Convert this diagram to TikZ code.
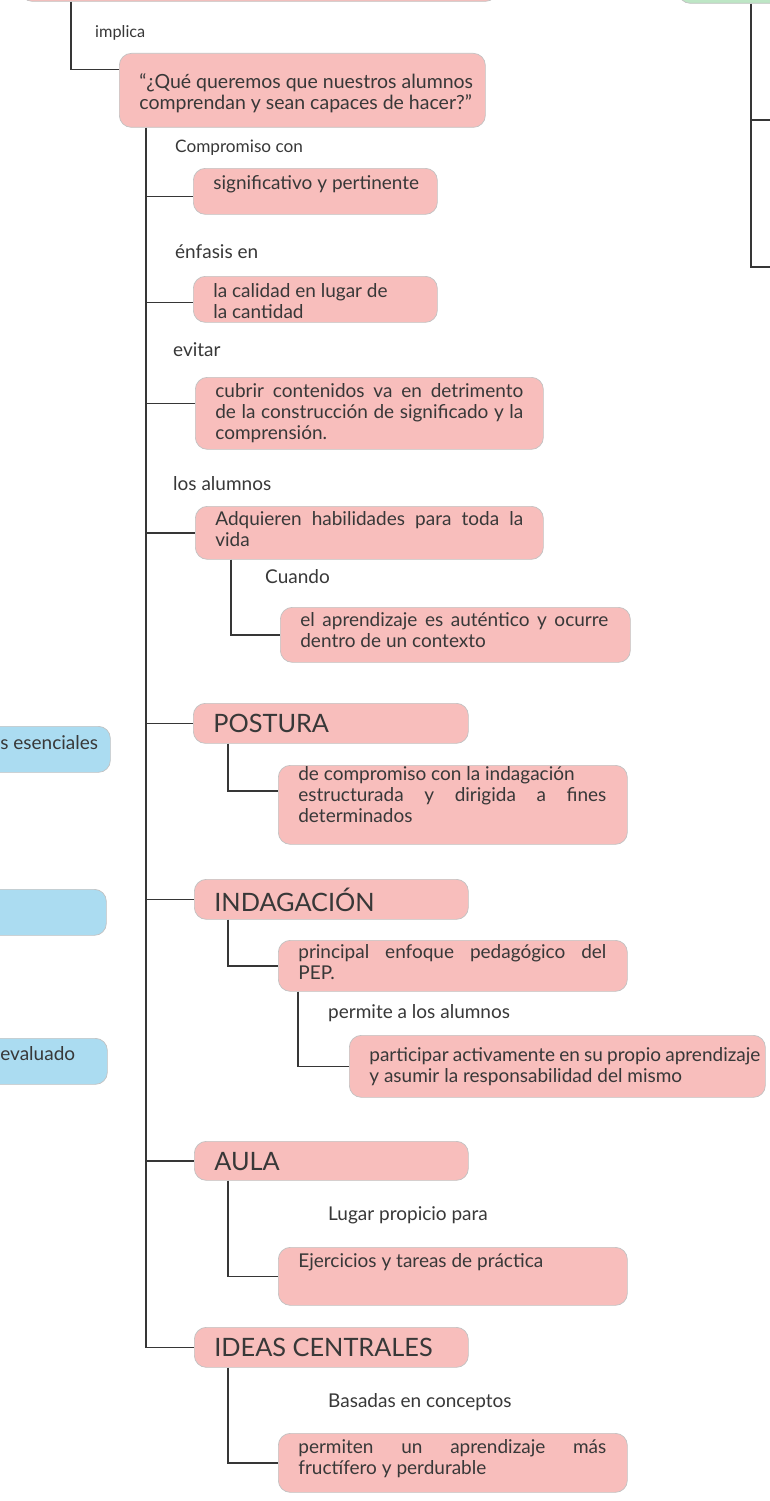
\documentclass[tikz,border=0pt]{standalone}
\usepackage{fontspec}
\setmainfont{Lato}
\definecolor{pk}{HTML}{F8BEBC}
\definecolor{bl}{HTML}{ABDCF1}
\definecolor{gr}{HTML}{BDE6C5}
\definecolor{bd}{HTML}{C2C2C2}
\definecolor{tx}{HTML}{383838}
\definecolor{ln}{HTML}{363636}
% width, height, top pad, content
\newcommand{\bt}[4]{\parbox[c][#2pt][t]{#1pt}{\vspace*{#3pt}\hspace*{20pt}\begin{tabular}[t]{@{}l@{}}#4\end{tabular}}}
\newcommand{\jl}[1]{\makebox[308pt][s]{#1}}
\newcommand{\bfnt}{\fontsize{19}{21}\selectfont}
\newcommand{\tfnt}{\fontsize{25.3}{29}\selectfont}
\begin{document}
\begin{tikzpicture}[x=1pt,y=-1pt,
  pbox/.style={rectangle, rounded corners=12pt, draw=bd, line width=0.7pt, fill=pk, inner sep=0pt, anchor=north west, text=tx, font=\bfnt},
  bbox/.style={pbox, fill=bl},
  gbox/.style={pbox, fill=gr},
  lbl/.style={anchor=base west, inner sep=0pt, text=tx, font=\fontsize{19}{21}\selectfont},
  conn/.style={draw=ln, line width=1.3pt}]
\useasboundingbox[fill=white] (0,0) rectangle (770,1501);

% root and top
\node[pbox, minimum width=477pt, minimum height=61pt] (root) at (20,-60) {};
\node[gbox, minimum width=200pt, minimum height=63pt] (grn) at (678,-60) {};

\node[pbox, font=\fontsize{19.5}{20.5}\selectfont] (q) at (119,53) {\bt{366}{74}{19.8}{“¿Qué queremos que nuestros alumnos\\comprendan y sean capaces de hacer?”}};

% labels
\node[lbl, font=\fontsize{16.3}{18}\selectfont] (limp) at (95,38) {implica};
\node[lbl, font=\fontsize{17.2}{19}\selectfont] (lcom) at (175,152) {Compromiso con};
\node[lbl] (lenf) at (175,258) {énfasis en};
\node[lbl] (levi) at (173,356) {evitar};
\node[lbl] (lalu) at (173,490) {los alumnos};
\node[lbl] (lcua) at (265,583) {Cuando};
\node[lbl] (lper) at (328,1018) {permite a los alumnos};
\node[lbl] (llug) at (328,1220) {Lugar propicio para};
\node[lbl] (lbas) at (328,1407) {Basadas en conceptos};

% boxes
\node[pbox] (s1) at (193,168) {\bt{244}{46}{6.3}{significativo y pertinente}};
\node[pbox] (s2) at (193,276) {\bt{244}{46}{6.3}{la calidad en lugar de\\la cantidad}};
\node[pbox] (s3) at (195,377) {\bt{348}{72}{5.3}{\jl{cubrir contenidos va en detrimento}\\\jl{de la construcción de significado y la}\\comprensión.}};
\node[pbox] (s4) at (195,506) {\bt{348}{53}{4.3}{\jl{Adquieren habilidades para toda la}\\vida}};
\node[pbox] (s4a) at (280,607) {\bt{350}{55}{4.3}{\jl{el aprendizaje es auténtico y ocurre}\\dentro de un contexto}};

\node[pbox, font=\tfnt] (post) at (193,703) {\bt{275}{40}{8.7}{POSTURA}};
\node[pbox] (posta) at (278,765) {\bt{349}{79}{0.5}{de compromiso con la indagación\\\jl{estructurada y dirigida a fines}\\determinados}};

\node[pbox, font=\tfnt] (ind) at (194,879) {\bt{274}{40}{8.7}{INDAGACIÓN}};
\node[pbox] (inda) at (278,940) {\bt{349}{51}{3.3}{\jl{principal enfoque pedagógico del}\\PEP.}};
\node[pbox] (indb) at (349,1035) {\bt{416}{62}{11.5}{\makebox[391pt][s]{participar activamente en su propio aprendizaje}\\y asumir la responsabilidad del mismo}};

\node[pbox, font=\tfnt] (aula) at (194,1141) {\bt{274}{39}{8.7}{AULA}};
\node[pbox] (aulaa) at (278,1247) {\bt{349}{58}{5.3}{Ejercicios y tareas de práctica}};

\node[pbox, font=\tfnt] (ideas) at (194,1327) {\bt{274}{40}{8.7}{IDEAS CENTRALES}};
\node[pbox] (ideasa) at (278,1433) {\bt{349}{59}{5.3}{\jl{permiten un aprendizaje más}\\fructífero y perdurable}};

% left blue boxes (cut by the page edge)
\node[bbox] (b1) at (-20,726) {\bt{130}{46}{8.3}{s esenciales}};
\node[bbox] (b2) at (-20,889) {\bt{126}{46}{8}{}};
\node[bbox] (b3) at (-20,1038) {\bt{127}{46}{7.3}{evaluado}};

% connectors
\coordinate (tr) at ([xshift=27pt]q.south west);
\coordinate (gv) at ([xshift=73pt]grn.south west);
\coordinate (g1) at (775,120);
\coordinate (g2) at (775,267);

\draw[conn] ([xshift=51pt]root.south west) |- ([yshift=21pt]q.west);
\draw[conn] (tr) |- (ideas.west);
\draw[conn] ([yshift=-5pt]s1.west -| tr) -- ([yshift=-5pt]s1.west);
\draw[conn] ([yshift=-3pt]s2.west -| tr) -- ([yshift=-3pt]s2.west);
\draw[conn] ([yshift=10pt]s3.west -| tr) -- ([yshift=10pt]s3.west);
\draw[conn] (s4.west -| tr) -- (s4.west);
\draw[conn] (post.west -| tr) -- (post.west);
\draw[conn] (ind.west -| tr) -- (ind.west);
\draw[conn] (aula.west -| tr) -- (aula.west);

\draw[conn] ([xshift=36pt]s4.south west) |- (s4a.west);
\draw[conn] ([xshift=35pt]post.south west) |- ([yshift=14pt]posta.west);
\draw[conn] ([xshift=34pt]ind.south west) |- (inda.west);
\draw[conn] ([xshift=20pt]inda.south west) |- (indb.west);
\draw[conn] ([xshift=34pt]aula.south west) |- (aulaa.west);
\draw[conn] ([xshift=34pt]ideas.south west) |- (ideasa.west);

\draw[conn] (gv) |- (g2);
\draw[conn] (gv |- g1) -- (g1);
\end{tikzpicture}
\end{document}
